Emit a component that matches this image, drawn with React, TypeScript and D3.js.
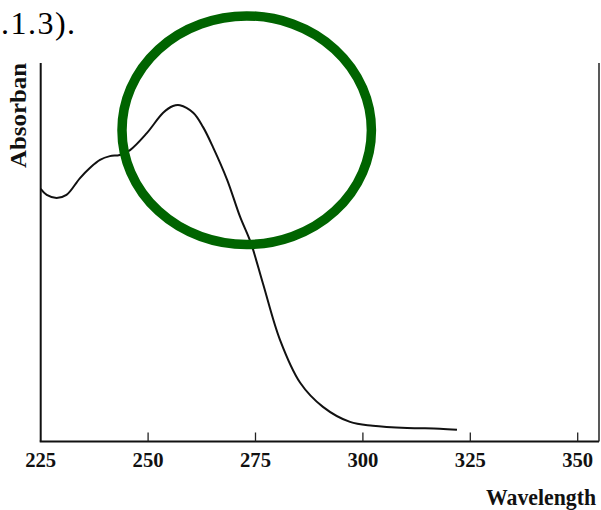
import React from 'react';
import * as d3 from 'd3';

// spectrum (wavelength in nm, absorbance in relative units)
const wavelengths = [225, 226.4, 228.7, 231.0, 234.1, 236.5, 238.8, 241.1, 243.4, 245.8, 249.7, 253.5, 255.8, 257.4, 260.5, 262.8, 265.1, 268.4, 271.4, 273.9, 276.7, 280.7, 285.4, 290.7, 297.0, 302.3, 310.3, 317.9, 321.9];
const absorbance = [0.671, 0.655, 0.647, 0.655, 0.699, 0.727, 0.748, 0.758, 0.761, 0.774, 0.819, 0.873, 0.891, 0.893, 0.873, 0.835, 0.782, 0.695, 0.597, 0.528, 0.421, 0.27, 0.156, 0.092, 0.052, 0.042, 0.036, 0.034, 0.031];
const xTicks = [225, 250, 275, 300, 325, 350];
const xLabels = ['225', '250', '275', '300', '325', '350'];

const App = () => {
  const width = 601;
  const height = 510;
  const left = 40.7;
  const right = 599;
  const top = 63;
  const bottom = 441.5;

  const xScale = d3.scaleLinear().domain([225, 350]).range([left, 577.7]);
  const yScale = d3.scaleLinear().domain([0, 1]).range([bottom, 65]);

  const points = wavelengths.map((w, i) => [w, absorbance[i]] as [number, number]);
  const line = d3
    .line<[number, number]>()
    .x((d) => xScale(d[0]))
    .y((d) => yScale(d[1]))
    .curve(d3.curveCatmullRom.alpha(0.5));

  const labelFont = '"Liberation Serif", "Times New Roman", serif';

  return (
    <div style={{ position: 'absolute', left: 0, top: 0 }}>
      <svg width={width} height={height} style={{ display: 'block', background: '#fff' }}>
        {/* caption fragment at the top */}
        <text x={1} y={34} fontFamily={labelFont} fontSize={32} textLength={74} lengthAdjust="spacing" fill="#000">
          .1.3).
        </text>

        {/* frame */}
        <line x1={left} x2={left} y1={top} y2={bottom} stroke="#111" strokeWidth={2} />
        <line x1={left - 1} x2={right} y1={bottom} y2={bottom} stroke="#111" strokeWidth={2} />
        <line x1={right} x2={right} y1={top} y2={bottom} stroke="#222" strokeWidth={1.5} />

        {/* ticks and labels */}
        {xTicks.map((t, i) => (
          <g key={t}>
            {i > 0 && (
              <line x1={xScale(t)} x2={xScale(t)} y1={bottom} y2={bottom - 9} stroke="#222" strokeWidth={1.3} />
            )}
            <text
              x={xScale(t) - 15.5}
              y={467}
              fontFamily={labelFont}
              fontWeight="bold"
              fontSize={22}
              textLength={31}
              lengthAdjust="spacingAndGlyphs"
              fill="#111"
            >
              {xLabels[i]}
            </text>
          </g>
        ))}

        {/* axis titles */}
        <text x={486} y={505} fontFamily={labelFont} fontWeight="bold" fontSize={23} textLength={110} lengthAdjust="spacingAndGlyphs" fill="#111">
          Wavelength
        </text>
        <text
          transform="translate(26,168) rotate(-90)"
          fontFamily={labelFont}
          fontWeight="bold"
          fontSize={23}
          textLength={105}
          lengthAdjust="spacingAndGlyphs"
          fill="#111"
        >
          Absorban
        </text>

        {/* spectrum */}
        <path d={line(points) || ''} fill="none" stroke="#111" strokeWidth={2} />

        {/* green highlight ellipse */}
        <ellipse cx={246.7} cy={130.2} rx={124.7} ry={114.3} fill="none" stroke="#006400" strokeWidth={9.5} />
      </svg>
    </div>
  );
};

export default App;
